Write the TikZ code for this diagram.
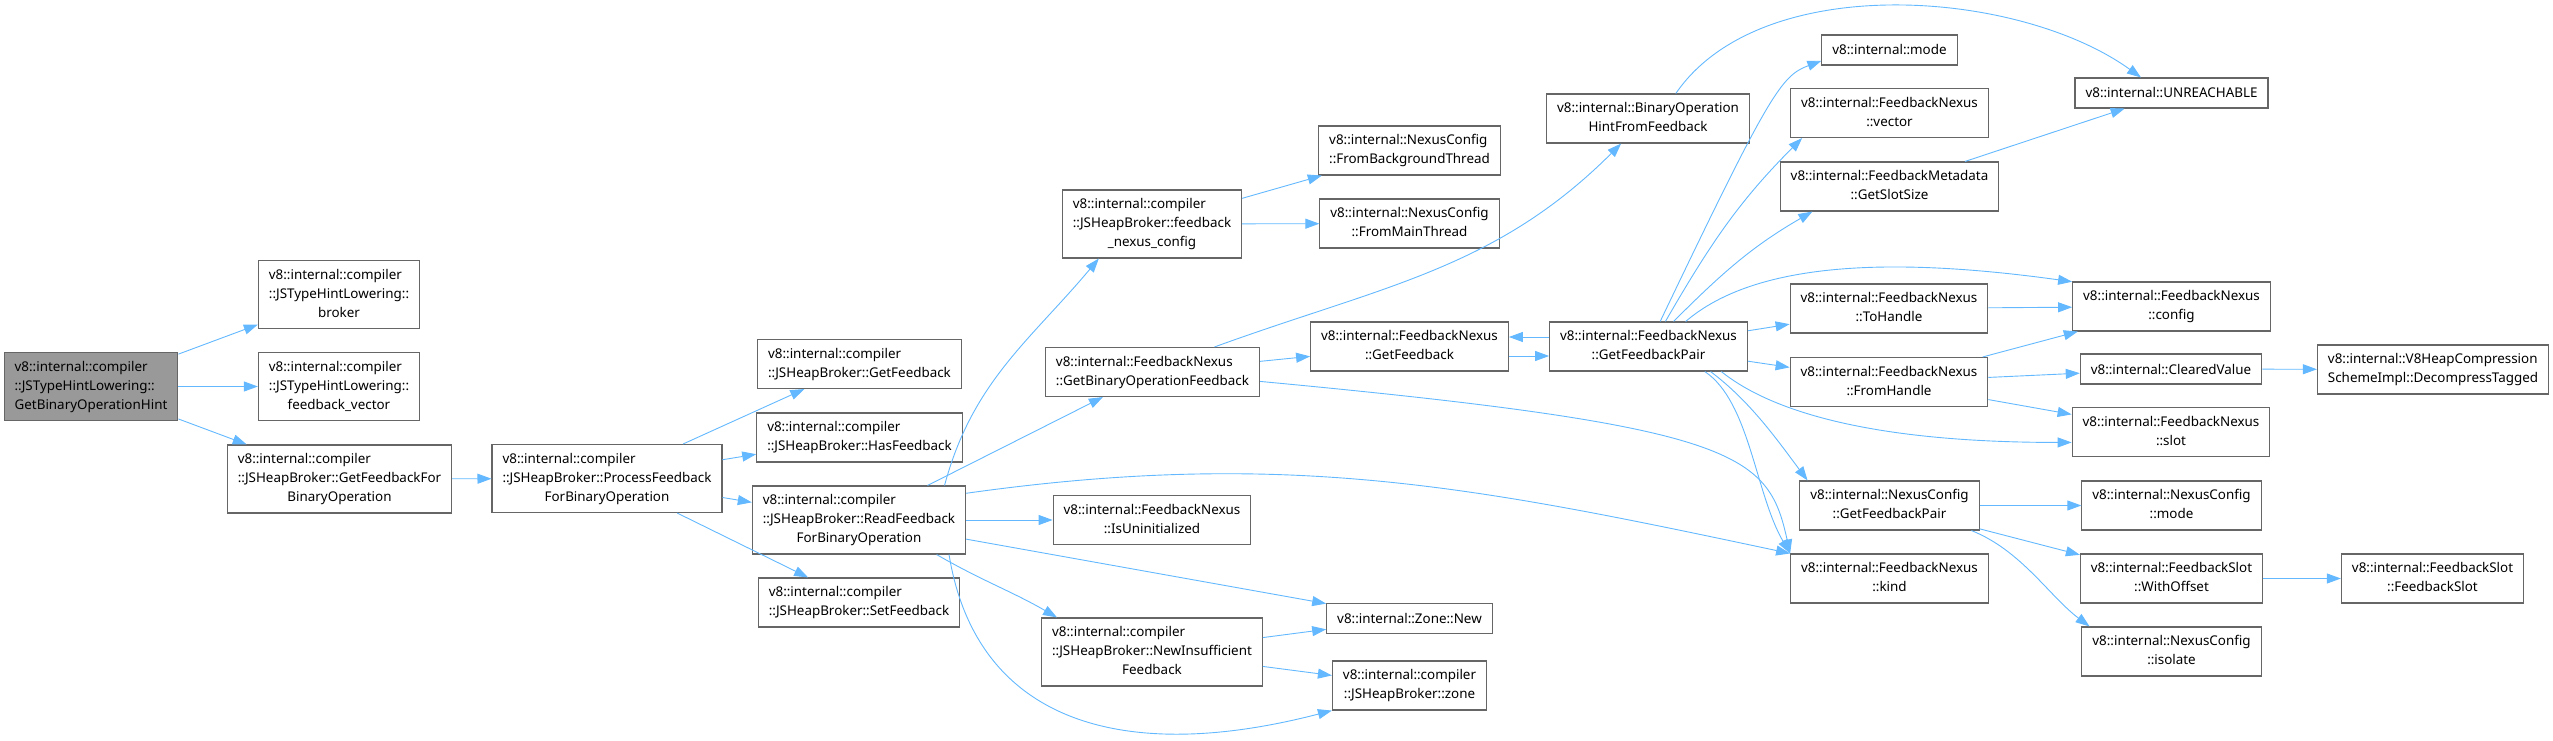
\documentclass[tikz,border=0pt]{standalone}
\usepackage{fontspec}
\setmainfont{Noto Sans}
\usepackage{xcolor}
\usepackage{tikz}
\usetikzlibrary{arrows.meta,positioning}

\definecolor{edgeblue}{HTML}{63B8FF}
\definecolor{boxline}{HTML}{666666}
\definecolor{rootfill}{HTML}{999999}

% first lines flush left, last line centred
\newcommand{\fnlabel}[2]{\begin{tabular}{@{}l@{}}#1\\\multicolumn{1}{@{}c@{}}{#2}\end{tabular}}

\begin{document}
\begin{tikzpicture}[
  x=1pt, y=-1pt,
  fnbox/.style={draw=boxline, line width=1.1pt, fill=white, align=center,
    font=\fontsize{13.4}{19}\selectfont, inner xsep=10.5pt, inner ysep=2pt,
    minimum height=49pt},
  fnone/.style={fnbox, minimum height=30pt},
  fnthree/.style={fnbox, minimum height=68pt},
  rootfn/.style={fnthree, fill=rootfill},
  arr/.style={-{Triangle[length=14pt,width=10pt]}, draw=edgeblue, line width=0.9pt},
]
\useasboundingbox (0,0) rectangle (2553,741);

% ===== caller =====
\node[rootfn] (root) at (91,386.5) {\fnlabel{v8::internal::compiler\\::JSTypeHintLowering::}{GetBinaryOperationHint}};

% ===== column 1 =====
\node[fnthree] (broker) at (339,294.5) {\fnlabel{v8::internal::compiler\\::JSTypeHintLowering::}{broker}};
\node[fnthree] (fbvec) at (339,386.5) {\fnlabel{v8::internal::compiler\\::JSTypeHintLowering::}{feedback\_vector}};
\node[fnthree] (getfbbinop) at (339.5,479) {\fnlabel{v8::internal::compiler\\::JSHeapBroker::GetFeedbackFor}{BinaryOperation}};

% ===== column 2 =====
\node[fnthree] (process) at (607,478.5) {\fnlabel{v8::internal::compiler\\::JSHeapBroker::ProcessFeedback}{ForBinaryOperation}};

% ===== column 3 =====
\node[fnbox] (getfb) at (859.5,364) {\fnlabel{v8::internal::compiler}{::JSHeapBroker::GetFeedback}};
\node[fnbox] (hasfb) at (859.5,437.5) {\fnlabel{v8::internal::compiler}{::JSHeapBroker::HasFeedback}};
\node[fnthree] (readfb) at (859,520) {\fnlabel{v8::internal::compiler\\::JSHeapBroker::ReadFeedback}{ForBinaryOperation}};
\node[fnbox] (setfb) at (859,602.5) {\fnlabel{v8::internal::compiler}{::JSHeapBroker::SetFeedback}};

% ===== column 4 =====
\node[fnthree] (nexuscfg) at (1152,224) {\fnlabel{v8::internal::compiler\\::JSHeapBroker::feedback}{\_nexus\_config}};
\node[fnbox] (getbinopfb) at (1152.5,372) {\fnlabel{v8::internal::FeedbackNexus}{::GetBinaryOperationFeedback}};
\node[fnbox] (isuninit) at (1152,520) {\fnlabel{v8::internal::FeedbackNexus}{::IsUninitialized}};
\node[fnthree] (newinsuff) at (1152,652) {\fnlabel{v8::internal::compiler\\::JSHeapBroker::NewInsufficient}{Feedback}};

% ===== column 5 =====
\node[fnbox] (frombg) at (1409.5,150.5) {\fnlabel{v8::internal::NexusConfig}{::FromBackgroundThread}};
\node[fnbox] (frommain) at (1409.5,223.5) {\fnlabel{v8::internal::NexusConfig}{::FromMainThread}};
\node[fnbox] (fngetfb) at (1409.5,346.5) {\fnlabel{v8::internal::FeedbackNexus}{::GetFeedback}};
\node[fnone] (zonenew) at (1409.5,618.5) {v8::internal::Zone::New};
\node[fnbox] (zone) at (1409.5,685.5) {\fnlabel{v8::internal::compiler}{::JSHeapBroker::zone}};

% ===== column 6 =====
\node[fnbox] (binophint) at (1648,118.5) {\fnlabel{v8::internal::BinaryOperation}{HintFromFeedback}};
\node[fnbox] (fnpair) at (1648.5,346.5) {\fnlabel{v8::internal::FeedbackNexus}{::GetFeedbackPair}};

% ===== column 7 =====
\node[fnone] (mode) at (1889.5,50) {v8::internal::mode};
\node[fnbox] (vector) at (1889.5,113) {\fnlabel{v8::internal::FeedbackNexus}{::vector}};
\node[fnbox] (slotsize) at (1889.5,186.5) {\fnlabel{v8::internal::FeedbackMetadata}{::GetSlotSize}};
\node[fnbox] (tohandle) at (1889,308.5) {\fnlabel{v8::internal::FeedbackNexus}{::ToHandle}};
\node[fnbox] (fromhandle) at (1889,382) {\fnlabel{v8::internal::FeedbackNexus}{::FromHandle}};
\node[fnbox] (ncpair) at (1889.5,505.5) {\fnlabel{v8::internal::NexusConfig}{::GetFeedbackPair}};
\node[fnbox] (kind) at (1889.5,578.5) {\fnlabel{v8::internal::FeedbackNexus}{::kind}};

% ===== column 8 =====
\node[fnone] (unreach) at (2171.5,93) {v8::internal::UNREACHABLE};
\node[fnbox] (config) at (2171.5,306.5) {\fnlabel{v8::internal::FeedbackNexus}{::config}};
\node[fnone] (cleared) at (2171,369) {v8::internal::ClearedValue};
\node[fnbox] (slot) at (2171,432) {\fnlabel{v8::internal::FeedbackNexus}{::slot}};
\node[fnbox] (ncmode) at (2171.5,505.5) {\fnlabel{v8::internal::NexusConfig}{::mode}};
\node[fnbox] (withoffset) at (2171.5,578.5) {\fnlabel{v8::internal::FeedbackSlot}{::WithOffset}};
\node[fnbox] (isolate) at (2171.5,651.5) {\fnlabel{v8::internal::NexusConfig}{::isolate}};

% ===== column 9 =====
\node[fnbox] (decomp) at (2433,369.5) {\fnlabel{v8::internal::V8HeapCompression}{SchemeImpl::DecompressTagged}};
\node[fnbox] (fbslot) at (2432.5,578.5) {\fnlabel{v8::internal::FeedbackSlot}{::FeedbackSlot}};

% ===== calls =====
\draw[arr] (root) -- (broker);
\draw[arr] (root) -- (fbvec);
\draw[arr] (root) -- (getfbbinop);
\draw[arr] (getfbbinop) -- (process);

\draw[arr] (process) -- (getfb);
\draw[arr] (process) -- (hasfb);
\draw[arr] (process) -- (readfb);
\draw[arr] (process) -- (setfb);

\draw[arr] (readfb.22) to[out=75,in=230] (nexuscfg.213);
\draw[arr] (readfb) -- (getbinopfb);
\draw[arr] (readfb) -- (isuninit);
\draw[arr] (readfb.14) to[out=8,in=168] (kind.north west);
\draw[arr] (readfb) -- (zonenew);
\draw[arr] (readfb.-24) to[out=-30,in=150] (newinsuff.160);
\draw[arr] (readfb.-21) .. controls +(27,166) and +(-212,55) .. (zone.south west);

\draw[arr] (newinsuff) -- (zonenew);
\draw[arr] (newinsuff) -- (zone);
\draw[arr] (nexuscfg) -- (frombg);
\draw[arr] (nexuscfg) -- (frommain);

\draw[arr] (getbinopfb) -- (fngetfb);
\draw[arr] (getbinopfb.22) to[out=20,in=225] (binophint.223);
\draw[arr] (getbinopfb.-5) .. controls +(480,45) and +(-22,-100) .. (kind.north west);

\draw[arr] ([yshift=9.5pt]fnpair.west) -- ([yshift=9.5pt]fngetfb.east);
\draw[arr] ([yshift=-9.5pt]fngetfb.east) -- ([yshift=-9.5pt]fnpair.west);

\draw[arr] (fnpair.65) .. controls +(110,-230) and +(-40,15) .. (mode.189);
\draw[arr] (fnpair.56) to[out=60,in=225] (vector.196);
\draw[arr] (fnpair.45) to[out=45,in=210] (slotsize.198);
\draw[arr] (fnpair.34) .. controls +(70,-60) and +(-180,-25) .. (config.166);
\draw[arr] (fnpair) -- (tohandle);
\draw[arr] (fnpair) -- (fromhandle);
\draw[arr] (fnpair.-19) .. controls +(50,40) and +(-200,0) .. (slot.186);
\draw[arr] (fnpair.-22) .. controls +(40,30) and +(-30,-40) .. (ncpair.163);
\draw[arr] (fnpair.-24) .. controls +(45,30) and +(-35,-60) .. (kind.north west);

\draw[arr] (tohandle) -- (config);
\draw[arr] (fromhandle) -- (config);
\draw[arr] (fromhandle) -- (cleared);
\draw[arr] (fromhandle) -- (slot);
\draw[arr] (cleared) -- (decomp);

\draw[arr] (ncpair) -- (ncmode);
\draw[arr] (ncpair) -- (withoffset);
\draw[arr] (ncpair.-17) .. controls +(50,20) and +(-40,-30) .. (isolate.163);
\draw[arr] (withoffset) -- (fbslot);

\draw[arr] (slotsize) -- (unreach);
\draw[arr] (binophint.42) .. controls +(85,-124) and +(-122,-88) .. (unreach.153);

\end{tikzpicture}
\end{document}
